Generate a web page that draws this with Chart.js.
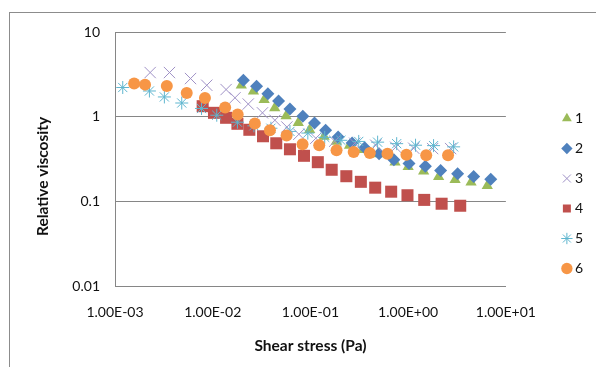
<!DOCTYPE html>
<html>
<head>
<meta charset="utf-8">
<script src="https://cdn.jsdelivr.net/npm/chart.js@4.4.1/dist/chart.umd.min.js"></script>
<style>
  body { margin: 0; background: #fff; }
  #frame { position: absolute; left: 9px; top: 12px; width: 700px; height: 500px; border: 1px solid #8c8c8c; }
  #chart { position: absolute; left: 0; top: 0; }
</style>
</head>
<body>
<div id="frame"></div>
<canvas id="chart" width="596" height="367"></canvas>
<script>
// values (shear stress in Pa, relative viscosity)
const seriesNames = ['1', '2', '3', '4', '5', '6'];

const shear1 = [0.0196, 0.0261, 0.0336, 0.0431, 0.0563, 0.0751, 0.0982, 0.138, 0.184, 0.251, 0.344, 0.491, 0.734, 1.00, 1.44, 2.05, 3.02, 4.40, 6.45];
const visc1  = [2.35, 2.0, 1.58, 1.27, 1.02, 0.845, 0.70, 0.585, 0.51, 0.455, 0.408, 0.362, 0.29, 0.256, 0.226, 0.195, 0.18, 0.168, 0.153];

const shear2 = [0.0206, 0.0281, 0.0367, 0.0472, 0.0617, 0.0836, 0.110, 0.143, 0.192, 0.267, 0.359, 0.504, 0.714, 1.02, 1.50, 2.15, 3.21, 4.68, 7.0];
const visc2  = [2.69, 2.28, 1.87, 1.53, 1.23, 1.01, 0.84, 0.69, 0.575, 0.489, 0.43, 0.366, 0.31, 0.279, 0.259, 0.232, 0.212, 0.197, 0.182];

const shear3 = [0.00229, 0.00361, 0.00593, 0.00869, 0.0137, 0.0169, 0.0231, 0.0323, 0.0433, 0.0574, 0.0762, 0.1135, 0.177, 0.284, 0.466, 0.745, 1.14, 1.78, 2.72];
const visc3  = [3.32, 3.32, 2.82, 2.35, 2.09, 1.67, 1.41, 1.11, 0.907, 0.755, 0.62, 0.556, 0.513, 0.485, 0.46, 0.435, 0.424, 0.42, 0.42];

const shear4 = [0.00789, 0.0103, 0.0137, 0.0179, 0.0237, 0.0327, 0.0447, 0.0617, 0.0859, 0.119, 0.165, 0.233, 0.328, 0.460, 0.670, 0.984, 1.46, 2.20, 3.41];
const visc4  = [1.33, 1.11, 0.97, 0.824, 0.70, 0.587, 0.485, 0.412, 0.345, 0.29, 0.236, 0.198, 0.170, 0.145, 0.130, 0.118, 0.104, 0.0937, 0.0887];

const shear5 = [0.0012, 0.00225, 0.0032, 0.00482, 0.00768, 0.011, 0.0179, 0.0264, 0.0394, 0.0617, 0.094, 0.140, 0.205, 0.312, 0.487, 0.763, 1.19, 1.82, 2.92];
const visc5  = [2.21, 2.01, 1.71, 1.45, 1.25, 1.04, 0.86, 0.78, 0.73, 0.67, 0.64, 0.57, 0.526, 0.51, 0.50, 0.48, 0.46, 0.455, 0.44];

const shear6 = [0.00157, 0.00203, 0.00339, 0.00542, 0.00833, 0.0134, 0.0180, 0.0270, 0.0385, 0.057, 0.083, 0.123, 0.185, 0.277, 0.405, 0.614, 0.96, 1.53, 2.56];
const visc6  = [2.46, 2.39, 2.30, 1.90, 1.66, 1.28, 1.06, 0.83, 0.69, 0.60, 0.472, 0.459, 0.40, 0.383, 0.373, 0.365, 0.355, 0.35, 0.35];

const xTicks = [0.001, 0.01, 0.1, 1, 10];
const xTickLabels = ['1.00E-03', '1.00E-02', '1.00E-01', '1.00E+00', '1.00E+01'];
const yTicks = [0.01, 0.1, 1, 10];
const yTickLabels = ['0.01', '0.1', '1', '10'];

function points(xs, ys) {
    return xs.map((x, i) => ({x: x, y: ys[i]}));
}

const allShear = [shear1, shear2, shear3, shear4, shear5, shear6];
const allVisc = [visc1, visc2, visc3, visc4, visc5, visc6];

// marker look per series
const markers = [
    {style: 'triangle', color: '#9bbb59', radius: 6.5, line: 0},
    {style: 'rectRot',  color: '#4f81bd', radius: 6.5, line: 0},
    {style: 'crossRot', color: '#9f91c6', radius: 8,   line: 1},
    {style: 'rect',     color: '#c0504d', radius: 8.5, line: 0},
    {style: 'star',     color: '#5fb6cf', radius: 6.5, line: 1},
    {style: 'circle',   color: '#f79646', radius: 6,   line: 0}
];

const datasets = seriesNames.map((name, i) => ({
    label: name,
    data: points(allShear[i], allVisc[i]),
    pointStyle: markers[i].style,
    pointRadius: markers[i].radius,
    pointHoverRadius: markers[i].radius,
    backgroundColor: markers[i].color,
    borderColor: markers[i].color,
    borderWidth: markers[i].line,
    showLine: false,
    order: 6 - i   // later series painted on top, like the original
}));

Chart.defaults.font.family = 'Lato';
Chart.defaults.color = '#111';

const gridGray = '#868686';

new Chart(document.getElementById('chart'), {
    type: 'scatter',
    data: {datasets: datasets},
    options: {
        responsive: false,
        animation: false,
        layout: {
            autoPadding: false,
            padding: {left: 0, top: 32, right: 3, bottom: 12}
        },
        plugins: {
            tooltip: {enabled: false},
            legend: {
                position: 'right',
                labels: {
                    usePointStyle: true,
                    boxWidth: 2,
                    boxHeight: 8,
                    padding: 16,
                    font: {size: 14},
                    color: '#111',
                    sort: (a, b) => a.datasetIndex - b.datasetIndex
                }
            }
        },
        scales: {
            x: {
                type: 'logarithmic',
                min: 0.001,
                max: 10,
                afterBuildTicks: scale => { scale.ticks = xTicks.map(v => ({value: v})); },
                afterFit: scale => { scale.height = 69; },
                grid: {display: false, drawTicks: false},
                border: {display: true, color: gridGray},
                ticks: {
                    padding: 18,
                    maxRotation: 0,
                    font: {size: 14},
                    callback: (value, index) => xTickLabels[index]
                },
                title: {
                    display: true,
                    text: 'Shear stress (Pa)',
                    font: {size: 15.5, weight: 'bold'},
                    padding: {top: 0, bottom: 0}
                }
            },
            y: {
                type: 'logarithmic',
                min: 0.01,
                max: 10,
                afterBuildTicks: scale => { scale.ticks = yTicks.map(v => ({value: v})); },
                afterFit: scale => { scale.width = 115; },
                grid: {color: gridGray, drawTicks: false},
                border: {display: true, color: gridGray},
                ticks: {
                    padding: 15,
                    font: {size: 14},
                    callback: (value, index) => yTickLabels[index]
                },
                title: {
                    display: true,
                    // trailing blank space pushes the title below the plot centre, as in the original
                    text: 'Relative viscosity\u2003\u2003\u2003',
                    font: {size: 15.5, weight: 'bold'},
                    padding: {top: 34, bottom: 0}
                }
            },
            // empty strip between the plot and the legend
            gap: {
                type: 'linear',
                position: 'right',
                display: true,
                grid: {display: false},
                border: {display: false},
                ticks: {display: false},
                afterFit: scale => { scale.width = 44; }
            }
        }
    }
});
</script>
</body>
</html>
